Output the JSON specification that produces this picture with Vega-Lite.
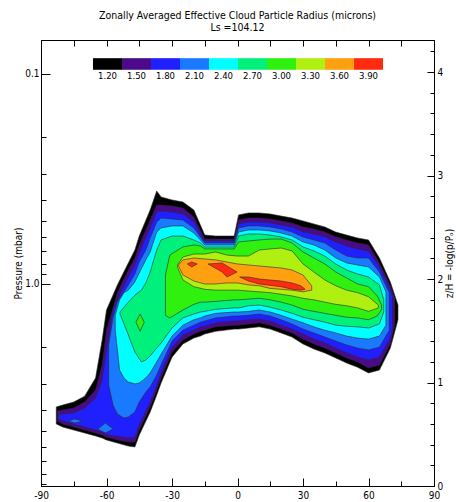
{
  "$schema": "https://vega.github.io/schema/vega-lite/v6.json",
  "width": 393,
  "height": 446,
  "autosize": {"type": "none"},
  "padding": {"left": 41, "top": 40, "right": 22, "bottom": 16},
  "background": "white",
  "config": {
    "view": {"stroke": "black", "strokeWidth": 1},
    "font": "Liberation Sans Narrow, DejaVu Sans Condensed, sans-serif",
    "axis": {"domainColor": "black", "tickColor": "black", "labelColor": "black", "titleColor": "black", "grid": false, "labelFontSize": 10, "titleFontSize": 10, "titleFontWeight": "normal", "labelOverlap": false, "labelFlush": false, "labelBound": false, "labelFont": "Liberation Sans Narrow, DejaVu Sans Condensed, sans-serif", "titleFont": "Liberation Sans Narrow, DejaVu Sans Condensed, sans-serif"},
    "legend": {"labelFont": "Liberation Sans Narrow, DejaVu Sans Condensed, sans-serif"}
  },
  "title": {"text": ["Zonally Averaged Effective Cloud Particle Radius (microns)", "Ls =104.12"], "anchor": "middle", "frame": "group", "offset": 6, "fontSize": 10.5, "lineHeight": 12, "fontWeight": "normal", "color": "black", "font": "Liberation Sans Narrow, DejaVu Sans Condensed, sans-serif"},
  "datasets": {
    "c": [
      {"lv":"1.20","g":"a","lat":-83,"t":3.85,"b":4.64},{"lv":"1.20","g":"a","lat":-80,"t":3.77,"b":4.80},{"lv":"1.20","g":"a","lat":-75,"t":3.65,"b":4.96},{"lv":"1.20","g":"a","lat":-70,"t":3.42,"b":5.12},{"lv":"1.20","g":"a","lat":-65,"t":2.80,"b":5.29},{"lv":"1.20","g":"a","lat":-62,"t":1.85,"b":5.41},{"lv":"1.20","g":"a","lat":-60,"t":1.33,"b":5.53},{"lv":"1.20","g":"a","lat":-55,"t":1.01,"b":5.72},{"lv":"1.20","g":"a","lat":-50,"t":0.794,"b":5.91},{"lv":"1.20","g":"a","lat":-47,"t":0.689,"b":5.97},{"lv":"1.20","g":"a","lat":-45,"t":0.591,"b":5.24},{"lv":"1.20","g":"a","lat":-40,"t":0.444,"b":4.07},{"lv":"1.20","g":"a","lat":-37,"t":0.361,"b":3.38},{"lv":"1.20","g":"a","lat":-35,"t":0.385,"b":2.96},{"lv":"1.20","g":"a","lat":-30,"t":0.398,"b":2.23},{"lv":"1.20","g":"a","lat":-25,"t":0.407,"b":1.93},{"lv":"1.20","g":"a","lat":-20,"t":0.444,"b":1.81},{"lv":"1.20","g":"a","lat":-17,"t":0.524,"b":1.77},{"lv":"1.20","g":"a","lat":-15,"t":0.585,"b":1.73},{"lv":"1.20","g":"a","lat":-10,"t":0.591,"b":1.68},{"lv":"1.20","g":"a","lat":-1.5,"t":0.591,"b":1.64},{"lv":"1.20","g":"a","lat":0.5,"t":0.469,"b":1.64},{"lv":"1.20","g":"a","lat":5,"t":0.459,"b":1.62},{"lv":"1.20","g":"a","lat":10,"t":0.459,"b":1.60},{"lv":"1.20","g":"a","lat":15,"t":0.464,"b":1.64},{"lv":"1.20","g":"a","lat":20,"t":0.475,"b":1.71},{"lv":"1.20","g":"a","lat":25,"t":0.485,"b":1.79},{"lv":"1.20","g":"a","lat":30,"t":0.501,"b":1.93},{"lv":"1.20","g":"a","lat":35,"t":0.518,"b":2.04},{"lv":"1.20","g":"a","lat":40,"t":0.535,"b":2.13},{"lv":"1.20","g":"a","lat":45,"t":0.566,"b":2.25},{"lv":"1.20","g":"a","lat":50,"t":0.585,"b":2.38},{"lv":"1.20","g":"a","lat":55,"t":0.604,"b":2.49},{"lv":"1.20","g":"a","lat":60,"t":0.617,"b":2.65},{"lv":"1.20","g":"a","lat":65,"t":0.752,"b":2.57},{"lv":"1.20","g":"a","lat":70,"t":0.978,"b":2.02},{"lv":"1.20","g":"a","lat":73.5,"t":1.26,"b":1.48},
      {"lv":"1.50","g":"a","lat":-82.5,"t":4.02,"b":4.49},{"lv":"1.50","g":"a","lat":-80,"t":3.98,"b":4.64},{"lv":"1.50","g":"a","lat":-75,"t":3.90,"b":4.80},{"lv":"1.50","g":"a","lat":-70,"t":3.65,"b":4.96},{"lv":"1.50","g":"a","lat":-65,"t":3.20,"b":5.12},{"lv":"1.50","g":"a","lat":-62,"t":2.43,"b":5.24},{"lv":"1.50","g":"a","lat":-60,"t":1.66,"b":5.35},{"lv":"1.50","g":"a","lat":-55,"t":1.10,"b":5.53},{"lv":"1.50","g":"a","lat":-50,"t":0.858,"b":5.66},{"lv":"1.50","g":"a","lat":-47,"t":0.752,"b":5.66},{"lv":"1.50","g":"a","lat":-45,"t":0.652,"b":4.96},{"lv":"1.50","g":"a","lat":-40,"t":0.496,"b":3.85},{"lv":"1.50","g":"a","lat":-37,"t":0.421,"b":3.20},{"lv":"1.50","g":"a","lat":-35,"t":0.421,"b":2.80},{"lv":"1.50","g":"a","lat":-30,"t":0.425,"b":2.11},{"lv":"1.50","g":"a","lat":-25,"t":0.435,"b":1.85},{"lv":"1.50","g":"a","lat":-20,"t":0.480,"b":1.73},{"lv":"1.50","g":"a","lat":-17,"t":0.553,"b":1.68},{"lv":"1.50","g":"a","lat":-15,"t":0.611,"b":1.66},{"lv":"1.50","g":"a","lat":-10,"t":0.611,"b":1.60},{"lv":"1.50","g":"a","lat":-1.5,"t":0.611,"b":1.57},{"lv":"1.50","g":"a","lat":0.5,"t":0.496,"b":1.57},{"lv":"1.50","g":"a","lat":5,"t":0.485,"b":1.55},{"lv":"1.50","g":"a","lat":10,"t":0.485,"b":1.53},{"lv":"1.50","g":"a","lat":15,"t":0.490,"b":1.57},{"lv":"1.50","g":"a","lat":20,"t":0.501,"b":1.64},{"lv":"1.50","g":"a","lat":25,"t":0.512,"b":1.71},{"lv":"1.50","g":"a","lat":30,"t":0.535,"b":1.83},{"lv":"1.50","g":"a","lat":35,"t":0.547,"b":1.93},{"lv":"1.50","g":"a","lat":40,"t":0.566,"b":2.02},{"lv":"1.50","g":"a","lat":45,"t":0.597,"b":2.13},{"lv":"1.50","g":"a","lat":50,"t":0.617,"b":2.25},{"lv":"1.50","g":"a","lat":55,"t":0.638,"b":2.35},{"lv":"1.50","g":"a","lat":60,"t":0.652,"b":2.51},{"lv":"1.50","g":"a","lat":65,"t":0.794,"b":2.43},{"lv":"1.50","g":"a","lat":70,"t":1.02,"b":1.93},{"lv":"1.50","g":"a","lat":72,"t":1.17,"b":1.57},
      {"lv":"1.80","g":"a","lat":-82,"t":4.20,"b":4.39},{"lv":"1.80","g":"a","lat":-80,"t":4.16,"b":4.49},{"lv":"1.80","g":"a","lat":-75,"t":4.11,"b":4.64},{"lv":"1.80","g":"a","lat":-70,"t":3.90,"b":4.80},{"lv":"1.80","g":"a","lat":-65,"t":3.49,"b":4.96},{"lv":"1.80","g":"a","lat":-62,"t":2.87,"b":5.07},{"lv":"1.80","g":"a","lat":-60,"t":2.06,"b":5.18},{"lv":"1.80","g":"a","lat":-57,"t":1.33,"b":5.29},{"lv":"1.80","g":"a","lat":-55,"t":1.19,"b":5.29},{"lv":"1.80","g":"a","lat":-50,"t":0.926,"b":5.41},{"lv":"1.80","g":"a","lat":-47,"t":0.812,"b":5.35},{"lv":"1.80","g":"a","lat":-45,"t":0.712,"b":4.69},{"lv":"1.80","g":"a","lat":-40,"t":0.541,"b":3.65},{"lv":"1.80","g":"a","lat":-37,"t":0.454,"b":3.03},{"lv":"1.80","g":"a","lat":-35,"t":0.449,"b":2.65},{"lv":"1.80","g":"a","lat":-30,"t":0.454,"b":2.00},{"lv":"1.80","g":"a","lat":-25,"t":0.464,"b":1.75},{"lv":"1.80","g":"a","lat":-20,"t":0.507,"b":1.66},{"lv":"1.80","g":"a","lat":-17,"t":0.578,"b":1.60},{"lv":"1.80","g":"a","lat":-15,"t":0.624,"b":1.59},{"lv":"1.80","g":"a","lat":-10,"t":0.624,"b":1.53},{"lv":"1.80","g":"a","lat":-1.5,"t":0.624,"b":1.50},{"lv":"1.80","g":"a","lat":0.5,"t":0.518,"b":1.50},{"lv":"1.80","g":"a","lat":5,"t":0.507,"b":1.48},{"lv":"1.80","g":"a","lat":10,"t":0.507,"b":1.47},{"lv":"1.80","g":"a","lat":15,"t":0.512,"b":1.50},{"lv":"1.80","g":"a","lat":20,"t":0.524,"b":1.57},{"lv":"1.80","g":"a","lat":25,"t":0.535,"b":1.64},{"lv":"1.80","g":"a","lat":30,"t":0.566,"b":1.73},{"lv":"1.80","g":"a","lat":35,"t":0.578,"b":1.83},{"lv":"1.80","g":"a","lat":40,"t":0.597,"b":1.91},{"lv":"1.80","g":"a","lat":45,"t":0.631,"b":2.02},{"lv":"1.80","g":"a","lat":50,"t":0.659,"b":2.13},{"lv":"1.80","g":"a","lat":55,"t":0.681,"b":2.23},{"lv":"1.80","g":"a","lat":60,"t":0.696,"b":2.30},{"lv":"1.80","g":"a","lat":65,"t":0.830,"b":2.23},{"lv":"1.80","g":"a","lat":70,"t":1.07,"b":1.81},{"lv":"1.80","g":"a","lat":71,"t":1.14,"b":1.62},
      {"lv":"2.10","g":"a","lat":-59,"t":1.95,"b":3.03},{"lv":"2.10","g":"a","lat":-57,"t":1.45,"b":3.77},{"lv":"2.10","g":"a","lat":-55,"t":1.22,"b":4.16},{"lv":"2.10","g":"a","lat":-52,"t":1.09,"b":4.35},{"lv":"2.10","g":"a","lat":-50,"t":1.01,"b":4.30},{"lv":"2.10","g":"a","lat":-47,"t":0.896,"b":4.07},{"lv":"2.10","g":"a","lat":-45,"t":0.785,"b":3.65},{"lv":"2.10","g":"a","lat":-42,"t":0.689,"b":3.27},{"lv":"2.10","g":"a","lat":-40,"t":0.604,"b":3.09},{"lv":"2.10","g":"a","lat":-37,"t":0.507,"b":2.71},{"lv":"2.10","g":"a","lat":-35,"t":0.485,"b":2.43},{"lv":"2.10","g":"a","lat":-30,"t":0.490,"b":1.87},{"lv":"2.10","g":"a","lat":-25,"t":0.496,"b":1.66},{"lv":"2.10","g":"a","lat":-20,"t":0.541,"b":1.57},{"lv":"2.10","g":"a","lat":-17,"t":0.597,"b":1.52},{"lv":"2.10","g":"a","lat":-15,"t":0.638,"b":1.50},{"lv":"2.10","g":"a","lat":-10,"t":0.638,"b":1.45},{"lv":"2.10","g":"a","lat":-1.5,"t":0.638,"b":1.42},{"lv":"2.10","g":"a","lat":0.5,"t":0.541,"b":1.42},{"lv":"2.10","g":"a","lat":5,"t":0.529,"b":1.41},{"lv":"2.10","g":"a","lat":10,"t":0.529,"b":1.39},{"lv":"2.10","g":"a","lat":15,"t":0.535,"b":1.42},{"lv":"2.10","g":"a","lat":20,"t":0.547,"b":1.48},{"lv":"2.10","g":"a","lat":25,"t":0.566,"b":1.55},{"lv":"2.10","g":"a","lat":30,"t":0.597,"b":1.64},{"lv":"2.10","g":"a","lat":35,"t":0.617,"b":1.71},{"lv":"2.10","g":"a","lat":40,"t":0.638,"b":1.79},{"lv":"2.10","g":"a","lat":45,"t":0.689,"b":1.87},{"lv":"2.10","g":"a","lat":50,"t":0.736,"b":1.95},{"lv":"2.10","g":"a","lat":55,"t":0.752,"b":2.02},{"lv":"2.10","g":"a","lat":60,"t":0.752,"b":2.06},{"lv":"2.10","g":"a","lat":65,"t":0.877,"b":2.00},{"lv":"2.10","g":"a","lat":69.5,"t":1.10,"b":1.66},
      {"lv":"2.10","g":"b","lat":-77.5,"t":4.49,"b":4.49},{"lv":"2.10","g":"b","lat":-74.5,"t":4.39,"b":4.59},{"lv":"2.10","g":"b","lat":-71,"t":4.49,"b":4.49},
      {"lv":"2.10","g":"c","lat":-64,"t":4.90,"b":4.90},{"lv":"2.10","g":"c","lat":-60.5,"t":4.59,"b":5.12},{"lv":"2.10","g":"c","lat":-57,"t":4.90,"b":4.90},
      {"lv":"2.40","g":"a","lat":-56,"t":1.41,"b":1.66},{"lv":"2.40","g":"a","lat":-54,"t":1.19,"b":2.57},{"lv":"2.40","g":"a","lat":-52,"t":1.10,"b":2.80},{"lv":"2.40","g":"a","lat":-50,"t":1.07,"b":2.93},{"lv":"2.40","g":"a","lat":-47,"t":0.978,"b":2.99},{"lv":"2.40","g":"a","lat":-45,"t":0.886,"b":2.96},{"lv":"2.40","g":"a","lat":-42,"t":0.768,"b":2.80},{"lv":"2.40","g":"a","lat":-40,"t":0.704,"b":2.65},{"lv":"2.40","g":"a","lat":-37,"t":0.566,"b":2.35},{"lv":"2.40","g":"a","lat":-35,"t":0.541,"b":2.16},{"lv":"2.40","g":"a","lat":-30,"t":0.529,"b":1.77},{"lv":"2.40","g":"a","lat":-25,"t":0.529,"b":1.57},{"lv":"2.40","g":"a","lat":-20,"t":0.572,"b":1.48},{"lv":"2.40","g":"a","lat":-17,"t":0.617,"b":1.45},{"lv":"2.40","g":"a","lat":-15,"t":0.652,"b":1.42},{"lv":"2.40","g":"a","lat":-10,"t":0.652,"b":1.38},{"lv":"2.40","g":"a","lat":-1.5,"t":0.652,"b":1.36},{"lv":"2.40","g":"a","lat":0.5,"t":0.566,"b":1.36},{"lv":"2.40","g":"a","lat":5,"t":0.553,"b":1.35},{"lv":"2.40","g":"a","lat":10,"t":0.553,"b":1.33},{"lv":"2.40","g":"a","lat":15,"t":0.559,"b":1.36},{"lv":"2.40","g":"a","lat":20,"t":0.572,"b":1.41},{"lv":"2.40","g":"a","lat":25,"t":0.591,"b":1.47},{"lv":"2.40","g":"a","lat":30,"t":0.631,"b":1.53},{"lv":"2.40","g":"a","lat":35,"t":0.652,"b":1.60},{"lv":"2.40","g":"a","lat":40,"t":0.689,"b":1.66},{"lv":"2.40","g":"a","lat":45,"t":0.752,"b":1.71},{"lv":"2.40","g":"a","lat":50,"t":0.794,"b":1.77},{"lv":"2.40","g":"a","lat":55,"t":0.812,"b":1.81},{"lv":"2.40","g":"a","lat":60,"t":0.830,"b":1.83},{"lv":"2.40","g":"a","lat":65,"t":0.926,"b":1.77},{"lv":"2.40","g":"a","lat":68,"t":1.09,"b":1.57},
      {"lv":"2.70","g":"a","lat":-53.8,"t":1.36,"b":1.39},{"lv":"2.70","g":"a","lat":-50,"t":1.22,"b":1.75},{"lv":"2.70","g":"a","lat":-47,"t":1.13,"b":2.11},{"lv":"2.70","g":"a","lat":-44,"t":1.07,"b":2.35},{"lv":"2.70","g":"a","lat":-42,"t":0.989,"b":2.30},{"lv":"2.70","g":"a","lat":-40,"t":0.877,"b":2.20},{"lv":"2.70","g":"a","lat":-37,"t":0.689,"b":2.02},{"lv":"2.70","g":"a","lat":-35,"t":0.617,"b":1.91},{"lv":"2.70","g":"a","lat":-30,"t":0.591,"b":1.62},{"lv":"2.70","g":"a","lat":-25,"t":0.591,"b":1.45},{"lv":"2.70","g":"a","lat":-20,"t":0.617,"b":1.39},{"lv":"2.70","g":"a","lat":-17,"t":0.638,"b":1.36},{"lv":"2.70","g":"a","lat":-15,"t":0.666,"b":1.35},{"lv":"2.70","g":"a","lat":-10,"t":0.666,"b":1.32},{"lv":"2.70","g":"a","lat":-1.5,"t":0.666,"b":1.30},{"lv":"2.70","g":"a","lat":0.5,"t":0.591,"b":1.30},{"lv":"2.70","g":"a","lat":5,"t":0.578,"b":1.27},{"lv":"2.70","g":"a","lat":10,"t":0.578,"b":1.26},{"lv":"2.70","g":"a","lat":15,"t":0.585,"b":1.29},{"lv":"2.70","g":"a","lat":20,"t":0.597,"b":1.33},{"lv":"2.70","g":"a","lat":25,"t":0.617,"b":1.38},{"lv":"2.70","g":"a","lat":30,"t":0.666,"b":1.44},{"lv":"2.70","g":"a","lat":35,"t":0.696,"b":1.48},{"lv":"2.70","g":"a","lat":40,"t":0.736,"b":1.52},{"lv":"2.70","g":"a","lat":45,"t":0.803,"b":1.57},{"lv":"2.70","g":"a","lat":50,"t":0.858,"b":1.59},{"lv":"2.70","g":"a","lat":55,"t":0.896,"b":1.60},{"lv":"2.70","g":"a","lat":60,"t":0.926,"b":1.62},{"lv":"2.70","g":"a","lat":65,"t":1.01,"b":1.55},{"lv":"2.70","g":"a","lat":67,"t":1.19,"b":1.36},
      {"lv":"3.00","g":"a","lat":-33,"t":0.906,"b":1.41},{"lv":"3.00","g":"a","lat":-31,"t":0.728,"b":1.45},{"lv":"3.00","g":"a","lat":-25,"t":0.666,"b":1.33},{"lv":"3.00","g":"a","lat":-20,"t":0.652,"b":1.25},{"lv":"3.00","g":"a","lat":-17,"t":0.659,"b":1.22},{"lv":"3.00","g":"a","lat":-15,"t":0.681,"b":1.22},{"lv":"3.00","g":"a","lat":-10,"t":0.681,"b":1.21},{"lv":"3.00","g":"a","lat":-1.5,"t":0.681,"b":1.19},{"lv":"3.00","g":"a","lat":0.5,"t":0.631,"b":1.19},{"lv":"3.00","g":"a","lat":5,"t":0.624,"b":1.18},{"lv":"3.00","g":"a","lat":10,"t":0.617,"b":1.17},{"lv":"3.00","g":"a","lat":15,"t":0.611,"b":1.19},{"lv":"3.00","g":"a","lat":20,"t":0.611,"b":1.22},{"lv":"3.00","g":"a","lat":25,"t":0.638,"b":1.26},{"lv":"3.00","g":"a","lat":30,"t":0.704,"b":1.32},{"lv":"3.00","g":"a","lat":35,"t":0.752,"b":1.35},{"lv":"3.00","g":"a","lat":40,"t":0.803,"b":1.38},{"lv":"3.00","g":"a","lat":45,"t":0.877,"b":1.41},{"lv":"3.00","g":"a","lat":50,"t":0.936,"b":1.44},{"lv":"3.00","g":"a","lat":55,"t":1.0,"b":1.45},{"lv":"3.00","g":"a","lat":60,"t":1.03,"b":1.48},{"lv":"3.00","g":"a","lat":64,"t":1.14,"b":1.42},{"lv":"3.00","g":"a","lat":66,"t":1.26,"b":1.32},
      {"lv":"3.00","g":"b","lat":-46.5,"t":1.52,"b":1.52},{"lv":"3.00","g":"b","lat":-44.6,"t":1.39,"b":1.68},{"lv":"3.00","g":"b","lat":-42.7,"t":1.52,"b":1.52},
      {"lv":"3.30","g":"a","lat":-27.5,"t":0.812,"b":0.830},{"lv":"3.30","g":"a","lat":-25,"t":0.744,"b":0.957},{"lv":"3.30","g":"a","lat":-20,"t":0.720,"b":1.03},{"lv":"3.30","g":"a","lat":-15,"t":0.720,"b":1.06},{"lv":"3.30","g":"a","lat":-10,"t":0.704,"b":1.07},{"lv":"3.30","g":"a","lat":-5,"t":0.728,"b":1.07},{"lv":"3.30","g":"a","lat":0,"t":0.736,"b":1.07},{"lv":"3.30","g":"a","lat":5,"t":0.736,"b":1.08},{"lv":"3.30","g":"a","lat":10,"t":0.689,"b":1.09},{"lv":"3.30","g":"a","lat":15,"t":0.681,"b":1.10},{"lv":"3.30","g":"a","lat":20,"t":0.674,"b":1.12},{"lv":"3.30","g":"a","lat":25,"t":0.696,"b":1.14},{"lv":"3.30","g":"a","lat":30,"t":0.803,"b":1.17},{"lv":"3.30","g":"a","lat":35,"t":0.877,"b":1.19},{"lv":"3.30","g":"a","lat":40,"t":0.957,"b":1.22},{"lv":"3.30","g":"a","lat":45,"t":1.02,"b":1.25},{"lv":"3.30","g":"a","lat":50,"t":1.07,"b":1.27},{"lv":"3.30","g":"a","lat":55,"t":1.10,"b":1.30},{"lv":"3.30","g":"a","lat":60,"t":1.15,"b":1.35},{"lv":"3.30","g":"a","lat":64.5,"t":1.26,"b":1.30},
      {"lv":"3.60","g":"a","lat":-27,"t":0.812,"b":0.821},{"lv":"3.60","g":"a","lat":-25,"t":0.768,"b":0.906},{"lv":"3.60","g":"a","lat":-20,"t":0.752,"b":0.968},{"lv":"3.60","g":"a","lat":-15,"t":0.760,"b":1.0},{"lv":"3.60","g":"a","lat":-10,"t":0.768,"b":1.0},{"lv":"3.60","g":"a","lat":-5,"t":0.785,"b":0.989},{"lv":"3.60","g":"a","lat":0,"t":0.803,"b":0.989},{"lv":"3.60","g":"a","lat":5,"t":0.812,"b":1.01},{"lv":"3.60","g":"a","lat":10,"t":0.821,"b":1.02},{"lv":"3.60","g":"a","lat":15,"t":0.830,"b":1.05},{"lv":"3.60","g":"a","lat":20,"t":0.839,"b":1.06},{"lv":"3.60","g":"a","lat":25,"t":0.858,"b":1.07},{"lv":"3.60","g":"a","lat":30,"t":0.906,"b":1.09},{"lv":"3.60","g":"a","lat":34,"t":1.02,"b":1.07},
      {"lv":"3.90","g":"a","lat":-23,"t":0.803,"b":0.803},{"lv":"3.90","g":"a","lat":-21,"t":0.785,"b":0.830},{"lv":"3.90","g":"a","lat":-18.5,"t":0.803,"b":0.803},
      {"lv":"3.90","g":"b","lat":-13.5,"t":0.803,"b":0.803},{"lv":"3.90","g":"b","lat":-7,"t":0.794,"b":0.877},{"lv":"3.90","g":"b","lat":-4.8,"t":0.821,"b":0.926},{"lv":"3.90","g":"b","lat":-0.2,"t":0.877,"b":0.877},
      {"lv":"3.90","g":"c","lat":1,"t":0.926,"b":0.926},{"lv":"3.90","g":"c","lat":5,"t":0.926,"b":0.968},{"lv":"3.90","g":"c","lat":10,"t":0.947,"b":1.0},{"lv":"3.90","g":"c","lat":20,"t":0.968,"b":1.03},{"lv":"3.90","g":"c","lat":25,"t":0.989,"b":1.06},{"lv":"3.90","g":"c","lat":29,"t":1.02,"b":1.07},{"lv":"3.90","g":"c","lat":31,"t":1.06,"b":1.06}
    ]
  },
  "layer": [
    {
      "data": {"name": "c"},
      "mark": {"type": "area", "stroke": "#2a2a2a", "strokeWidth": 0.6, "clip": true, "opacity": 1},
      "encoding": {
        "x": {"field": "lat", "type": "quantitative", "scale": {"domain": [-90, 90], "nice": false, "zero": false},
          "axis": {"title": null, "values": [-90,-75,-60,-45,-30,-15,0,15,30,45,60,75,90], "labelExpr": "datum.value % 30 === 0 ? '' + datum.value : ''", "tickSize": {"condition": {"test": "datum.value % 30 === 0", "value": -8}, "value": -5}, "labelPadding": 12}},
        "y": {"field": "t", "type": "quantitative", "stack": null, "scale": {"type": "log", "domain": [0.0689, 9.16], "reverse": true, "nice": false},
          "axis": {"title": "Pressure (mbar)", "values": [0.1,0.2,0.3,0.4,0.5,0.6,0.7,0.8,0.9,1,2,3,4,5,6,7,8,9], "labelExpr": "datum.value === 0.1 ? '0.1' : (datum.value === 1 ? '1.0' : '')", "tickSize": {"condition": {"test": "datum.value === 0.1 || datum.value === 1", "value": -9}, "value": -5}, "labelPadding": 11, "titlePadding": 1}},
        "y2": {"field": "b"},
        "color": {"field": "lv", "type": "ordinal",
          "scale": {"domain": ["1.20","1.50","1.80","2.10","2.40","2.70","3.00","3.30","3.60","3.90"], "range": ["#000000","#4a0a8a","#2020ff","#1a7aff","#00ffff","#00f07c","#30f010","#b0f010","#ffa010","#ff2a10"]},
          "legend": {"orient": "none", "legendX": 52, "legendY": 16, "direction": "horizontal", "columns": 10, "title": null, "symbolType": "M-1,-0.85L1,-0.85L1,-0.05L-1,-0.05Z", "symbolSize": 841, "symbolStrokeWidth": 0, "symbolOpacity": 1, "labelAlign": "center", "labelBaseline": "top", "labelOffset": -14.5, "labelFontSize": 9.5, "labelColor": "black", "columnPadding": 0, "rowPadding": 0, "padding": 0, "symbolLimit": 0}},
        "detail": {"field": "g"}
      }
    },
    {
      "data": {"values": [{}]},
      "mark": {"type": "point", "opacity": 0},
      "encoding": {
        "x": {"datum": 0, "type": "quantitative", "scale": {"domain": [-90, 90], "nice": false, "zero": false},
          "axis": {"orient": "top", "title": null, "values": [-75,-60,-45,-30,-15,0,15,30,45,60,75], "labels": false, "tickSize": -6}},
        "y": {"datum": 0, "type": "quantitative", "scale": {"domain": [0, 4.31], "nice": false, "zero": false},
          "axis": {"orient": "right", "title": "z/H = -log(p/Pₒ)", "titleAngle": 270, "titlePadding": 12, "values": [0,0.2,0.4,0.6,0.8,1,1.2,1.4,1.6,1.8,2,2.2,2.4,2.6,2.8,3,3.2,3.4,3.6,3.8,4,4.2], "labelExpr": "datum.value % 1 === 0 ? '' + datum.value : ''", "tickSize": {"condition": {"test": "datum.value % 1 === 0", "value": -7}, "value": -4}, "labelPadding": 10}}
      }
    }
  ],
  "resolve": {"scale": {"x": "independent", "y": "independent", "color": "independent"}, "axis": {"x": "independent", "y": "independent"}}
}
